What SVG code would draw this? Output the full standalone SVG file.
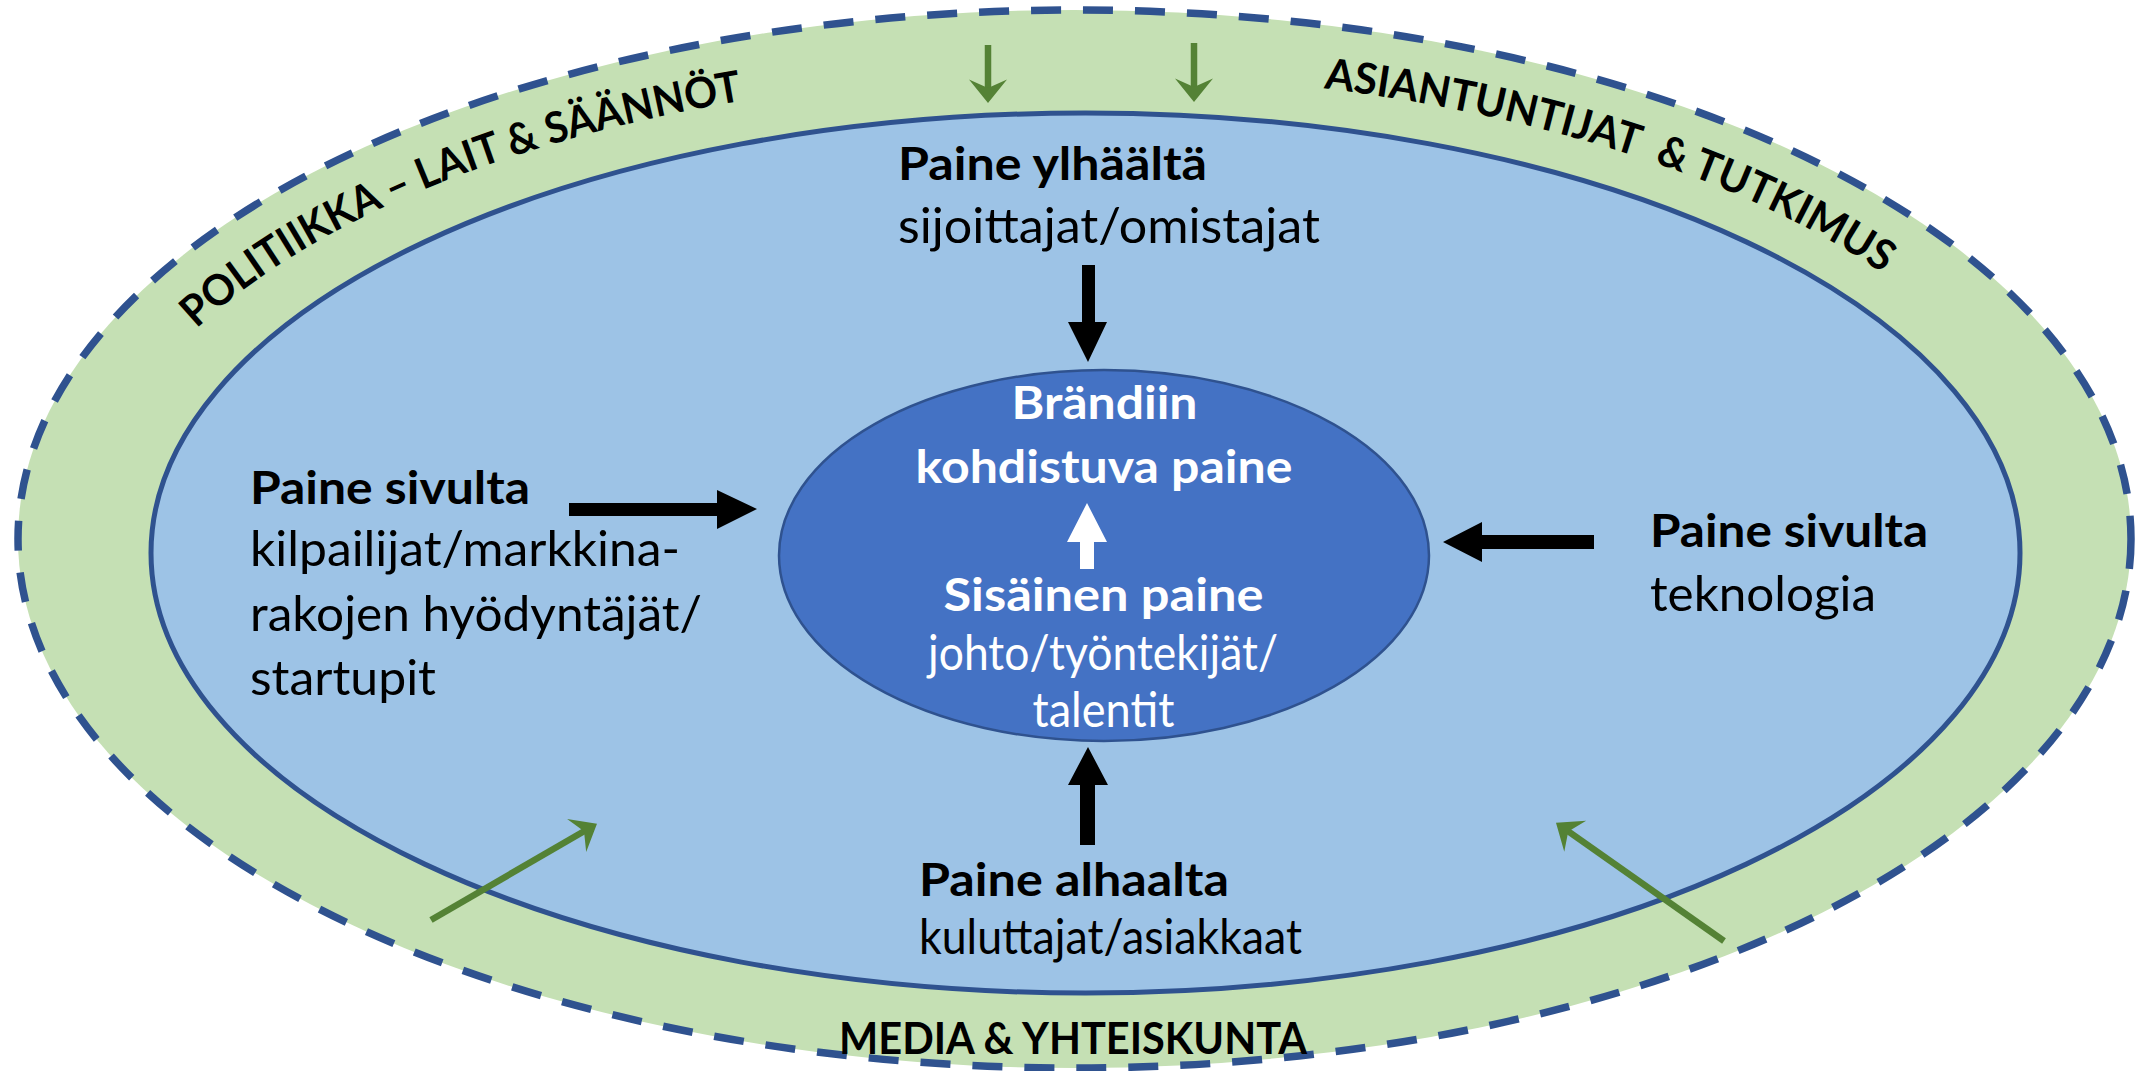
<svg xmlns="http://www.w3.org/2000/svg" xmlns:xlink="http://www.w3.org/1999/xlink" width="2141" height="1071" viewBox="0 0 2141 1071">
  <style>
    .t { font-family: Lato, "Open Sans", "Liberation Sans", sans-serif; fill: #000; }
    .b { font-weight: 700; font-size: 45px; }
    .r { font-weight: 400; font-size: 48px; }
    .w { fill: #fff; }
    .band { font-family: Lato, "Liberation Sans", sans-serif; font-weight: 700; font-size: 43px; fill: #000; }
    .ab { fill: #000; }
    .aw { fill: #fff; }
    .g { stroke: #548235; stroke-width: 6.5; fill: none; marker-end: url(#gh); }
  </style>
  <defs>
    <marker id="gh" markerUnits="userSpaceOnUse" markerWidth="60" markerHeight="60" viewBox="-30 -30 60 60" refX="0" refY="0" orient="auto" overflow="visible">
      <path d="M12,0 L-11.5,-19 L-3,0 L-11.5,19 Z" fill="#548235"/>
    </marker>
    <path id="arcTop" d="M 90.5 539 A 984 466 0 0 1 2058.5 539" fill="none"/>
  </defs>
  <rect width="2141" height="1071" fill="#fff"/>

  <g id="ring-outer">
    <ellipse cx="1074.5" cy="539" rx="1056.5" ry="529" fill="#C5E0B4" stroke="#2F528F" stroke-width="7.5" stroke-dasharray="30 22"/>
  </g>
  <g id="ring-inner">
    <ellipse cx="1085.5" cy="553" rx="934.5" ry="440" fill="#9DC3E6" stroke="#2F528F" stroke-width="5"/>
  </g>
  <g id="core">
    <ellipse cx="1104" cy="555.5" rx="325" ry="185.5" fill="#4472C4" stroke="#2F528F" stroke-width="2.5"/>
    <text class="t b w" x="1104.5" y="419" text-anchor="middle" textLength="186" lengthAdjust="spacingAndGlyphs">Brändiin</text>
    <text class="t b w" x="1104" y="483" text-anchor="middle" textLength="377" lengthAdjust="spacingAndGlyphs">kohdistuva paine</text>
    <text class="t b w" x="1103.5" y="611" text-anchor="middle" textLength="320" lengthAdjust="spacingAndGlyphs">Sisäinen paine</text>
    <text class="t r w" x="1103" y="670" text-anchor="middle" textLength="350" lengthAdjust="spacingAndGlyphs">johto/työntekijät/</text>
    <text class="t r w" x="1103.5" y="727" text-anchor="middle" textLength="142" lengthAdjust="spacingAndGlyphs">talentit</text>
  </g>

  <g id="label-politiikka">
    <text class="band"><textPath xlink:href="#arcTop" href="#arcTop" startOffset="242" textLength="600" lengthAdjust="spacingAndGlyphs">POLITIIKKA – LAIT &amp; SÄÄNNÖT</textPath></text>
  </g>
  <g id="label-asiantuntijat">
    <text class="band" xml:space="preserve"><textPath xlink:href="#arcTop" href="#arcTop" startOffset="1425" textLength="594" lengthAdjust="spacingAndGlyphs">ASIANTUNTIJAT  &amp; TUTKIMUS</textPath></text>
  </g>
  <g id="label-media">
    <text class="band" x="839" y="1054" font-size="39" textLength="468" lengthAdjust="spacingAndGlyphs">MEDIA &amp; YHTEISKUNTA</text>
  </g>

  <g id="node-top">
    <text class="t b" x="898" y="180" textLength="309" lengthAdjust="spacingAndGlyphs">Paine ylhäältä</text>
    <text class="t r" x="898" y="243" textLength="422" lengthAdjust="spacingAndGlyphs">sijoittajat/omistajat</text>
  </g>
  <g id="node-left">
    <text class="t b" x="250" y="504" textLength="280" lengthAdjust="spacingAndGlyphs">Paine sivulta</text>
    <text class="t r" x="250" y="566" textLength="430" lengthAdjust="spacingAndGlyphs">kilpailijat/markkina-</text>
    <text class="t r" x="250" y="631" textLength="452" lengthAdjust="spacingAndGlyphs">rakojen hyödyntäjät/</text>
    <text class="t r" x="250" y="695" textLength="186" lengthAdjust="spacingAndGlyphs">startupit</text>
  </g>
  <g id="node-right">
    <text class="t b" x="1650" y="546.5" textLength="278" lengthAdjust="spacingAndGlyphs">Paine sivulta</text>
    <text class="t r" x="1650" y="611" textLength="226" lengthAdjust="spacingAndGlyphs">teknologia</text>
  </g>
  <g id="node-bottom">
    <text class="t b" x="919" y="896" textLength="310" lengthAdjust="spacingAndGlyphs">Paine alhaalta</text>
    <text class="t r" x="919" y="954" textLength="383" lengthAdjust="spacingAndGlyphs">kuluttajat/asiakkaat</text>
  </g>

  <g id="connectors">
    <polygon class="ab" points="1082,265 1095,265 1095,322 1107,322 1088,362 1068,322 1082,322"/>
    <polygon class="aw" points="1087,503 1107,542 1094,542 1094,569 1080,569 1080,542 1067,542"/>
    <polygon class="ab" points="1088,747 1108,785 1095,785 1095,845 1080,845 1080,785 1068,785"/>
    <polygon class="ab" points="569,503 717,503 717,490 757,509 717,529 717,516 569,516"/>
    <polygon class="ab" points="1443,542 1482,522 1482,535 1594,535 1594,549 1482,549 1482,562"/>
    <line class="g" x1="988" y1="45" x2="988" y2="91"/>
    <line class="g" x1="1194" y1="43" x2="1194" y2="90"/>
    <line class="g" x1="431" y1="920" x2="586.6" y2="829.7"/>
    <line class="g" x1="1724" y1="941" x2="1565.8" y2="829.7"/>
  </g>
</svg>
